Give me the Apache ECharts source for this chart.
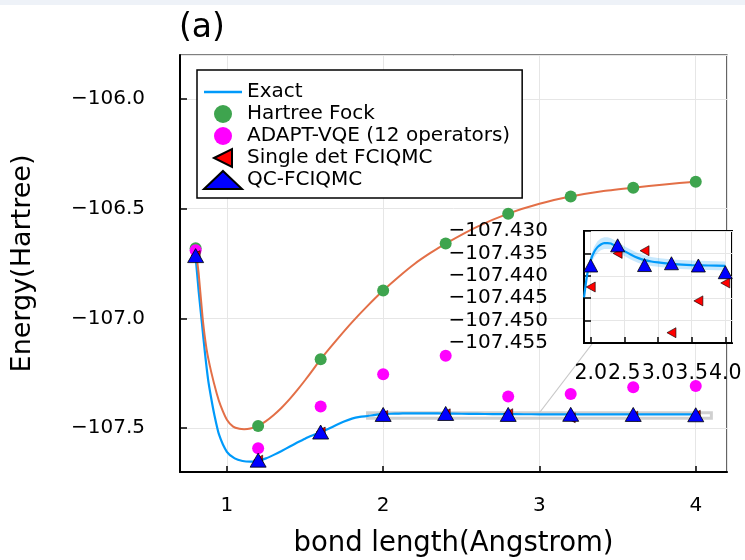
<!DOCTYPE html>
<html><head><meta charset="utf-8">
<script src="https://cdn.jsdelivr.net/npm/echarts@6/dist/echarts.min.js"></script>
<style>html,body{margin:0;padding:0;background:#fff}#c{width:745px;height:560px}</style>
</head><body><div id="c"></div>
<script>
// ---- data ----
const bondLengths = [0.8, 1.2, 1.6, 2.0, 2.4, 2.8, 3.2, 3.6, 4.0];
const hartreeFock = [-106.681, -107.490, -107.186, -106.873, -106.659, -106.523, -106.445, -106.405, -106.377];
const adaptVQE    = [-106.690, -107.592, -107.402, -107.255, -107.170, -107.356, -107.345, -107.314, -107.308];
const singleDet   = [-106.714, -107.646, -107.518, -107.4425, -107.4350, -107.4344, -107.4527, -107.4456, -107.4416];
const qcFCIQMC    = [-106.714, -107.646, -107.518, -107.4377, -107.4332, -107.4376, -107.4372, -107.4377, -107.4392];

const exactX = [0.80, 0.81, 0.82, 0.84, 0.86, 0.88, 0.90, 0.92, 0.95, 1.00, 1.05, 1.10, 1.15, 1.20, 1.25, 1.30, 1.35, 1.40, 1.45, 1.50, 1.55, 1.60, 1.65, 1.70, 1.75, 1.80, 1.85, 1.90, 1.95, 2.00, 2.05, 2.10, 2.15, 2.20, 2.25, 2.30, 2.35, 2.40, 2.50, 2.60, 2.70, 2.80, 2.90, 3.00, 3.25, 3.50, 3.75, 4.00];
const exactE = [-106.720, -106.800, -106.880, -107.020, -107.160, -107.280, -107.365, -107.440, -107.530, -107.608, -107.638, -107.650, -107.653, -107.649, -107.638, -107.622, -107.604, -107.585, -107.566, -107.548, -107.533, -107.519, -107.503, -107.486, -107.470, -107.457, -107.449, -107.4448, -107.4395, -107.4365, -107.4347, -107.4336, -107.4330, -107.4327, -107.4327, -107.4328, -107.4332, -107.4336, -107.4345, -107.4353, -107.4360, -107.4365, -107.4368, -107.4370, -107.4374, -107.4376, -107.4377, -107.4378];
const exactErr = [0.001, 0.001, 0.001, 0.001, 0.001, 0.001, 0.001, 0.001, 0.001, 0.001, 0.001, 0.001, 0.001, 0.001, 0.001, 0.001, 0.001, 0.001, 0.001, 0.001, 0.001, 0.001, 0.001, 0.001, 0.001, 0.001, 0.001, 0.0004, 0.0007, 0.0010, 0.0012, 0.0013, 0.0013, 0.0013, 0.0013, 0.0012, 0.0012, 0.0012, 0.0011, 0.0011, 0.0011, 0.0011, 0.0010, 0.0010, 0.0010, 0.0010, 0.0010, 0.0010];

const hfCurveX = [0.80, 0.82, 0.845, 0.87, 0.90, 0.935, 0.96, 1.00, 1.04, 1.08, 1.11, 1.15, 1.20, 1.25, 1.30, 1.35, 1.40, 1.45, 1.50, 1.55, 1.60, 1.70, 1.80, 1.90, 2.00, 2.10, 2.20, 2.30, 2.40, 2.60, 2.80, 3.00, 3.20, 3.40, 3.60, 3.80, 4.00];
const hfCurveE = [-106.681, -106.800, -107.000, -107.140, -107.245, -107.342, -107.398, -107.462, -107.493, -107.503, -107.505, -107.502, -107.490, -107.468, -107.440, -107.407, -107.369, -107.327, -107.282, -107.235, -107.186, -107.100, -107.018, -106.943, -106.873, -106.810, -106.752, -106.703, -106.659, -106.583, -106.523, -106.478, -106.445, -106.421, -106.405, -106.390, -106.377];

const mainXRange = [0.7, 4.2];
const mainYRange = [-107.7, -105.8];
const lensX = [1.9, 4.1];
const lensY = [-107.455, -107.43];

const FONT = 'DejaVu Sans';
const pairs = (xs, ys) => xs.map((x, i) => [x, ys[i]]);
const minus = s => s.replace('-', '\u2212');
const leftTri = 'path://M0,5 L10,0 L10,10 Z';

const insetIdx = exactX.map((x, i) => i).filter(i => exactX[i] >= lensX[0]);
const ribbonData = insetIdx.map(i => [exactX[i], exactE[i], exactErr[i]]);

const chart = echarts.init(document.getElementById('c'), null, {renderer: 'canvas'});

const axisCommon = {
  axisLine: {show: true, lineStyle: {color: '#000', width: 2}},
  axisTick: {show: true, inside: true, length: 7, lineStyle: {color: '#000', width: 1.5}},
  axisLabel: {color: '#000', fontFamily: FONT, fontSize: 20, hideOverlap: false},
  splitLine: {show: true, lineStyle: {color: '#e6e6e6', width: 1}}
};

const option = {
  animation: false,
  backgroundColor: '#fff',
  textStyle: {fontFamily: FONT},
  title: {text: '(a)', left: 174, top: 7, textStyle: {fontFamily: FONT, fontSize: 33, fontWeight: 'normal', color: '#000'}},
  legend: {
    data: [
      {name: 'Exact', icon: 'path://M0,0 L38,0 L38,2.4 L0,2.4 Z'},
      {name: 'Hartree Fock'},
      {name: 'ADAPT-VQE (12 operators)'},
      {name: 'Single det FCIQMC'},
      {name: 'QC-FCIQMC'}
    ],
    orient: 'vertical', left: 197, top: 70,
    padding: [12, 12, 8, 6], itemGap: 2, itemWidth: 38, itemHeight: 18,
    backgroundColor: '#fff', borderColor: '#000', borderWidth: 1.5, borderRadius: 0,
    textStyle: {fontFamily: FONT, fontSize: 20, color: '#000', lineHeight: 20},
    z: 10
  },
  grid: [
    {left: 180, top: 55, width: 547, height: 417, show: true, borderColor: '#000', borderWidth: 1.2, backgroundColor: 'transparent', outerBoundsMode: 'none', containLabel: false, z: 0},
    {left: 584, top: 231, width: 148, height: 112, show: true, borderColor: '#000', borderWidth: 2, backgroundColor: '#fff', outerBoundsMode: 'none', containLabel: false, z: 5}
  ],
  xAxis: [
    Object.assign({}, axisCommon, {
      type: 'value', gridIndex: 0, min: mainXRange[0], max: mainXRange[1], splitNumber: 4,
      name: 'bond length(Angstrom)', nameLocation: 'middle', nameGap: 58,
      nameTextStyle: {fontFamily: FONT, fontSize: 27.5, color: '#000'},
      axisTick: {show: true, inside: true, length: 6, lineStyle: {color: '#000', width: 1.5}},
      axisLabel: {color: '#000', fontFamily: FONT, fontSize: 20, margin: 24, showMinLabel: false, showMaxLabel: false, formatter: v => String(v)},
      z: 0
    }),
    Object.assign({}, axisCommon, {
      type: 'value', gridIndex: 1, min: lensX[0], max: lensX[1], splitNumber: 4,
      axisTick: {show: true, inside: true, length: 6, lineStyle: {color: '#000', width: 1.5}},
      axisLabel: {color: '#000', fontFamily: FONT, fontSize: 20.5, margin: 20, hideOverlap: false, showMinLabel: false, showMaxLabel: false, formatter: v => v.toFixed(1)},
      z: 6
    })
  ],
  yAxis: [
    Object.assign({}, axisCommon, {
      type: 'value', gridIndex: 0, min: mainYRange[0], max: mainYRange[1], splitNumber: 4,
      name: 'Energy(Hartree)', nameLocation: 'middle', nameGap: 144,
      nameTextStyle: {fontFamily: FONT, fontSize: 27, color: '#000'},
      axisLabel: {color: '#000', fontFamily: FONT, fontSize: 20, margin: 35, showMinLabel: false, showMaxLabel: false, formatter: v => minus(v.toFixed(1))},
      z: 0
    }),
    Object.assign({}, axisCommon, {
      type: 'value', gridIndex: 1, min: lensY[0], max: lensY[1], splitNumber: 5,
      axisLabel: {color: '#000', fontFamily: FONT, fontSize: 20, margin: 36, hideOverlap: false, showMinLabel: true, showMaxLabel: true, formatter: v => minus(v.toFixed(3))},
      z: 6
    })
  ],
  series: [
    // main panel
    {name: 'Exact', type: 'line', xAxisIndex: 0, yAxisIndex: 0, data: pairs(exactX, exactE), symbol: 'none', showSymbol: false, smooth: 0.2, lineStyle: {color: '#009AFA', width: 2.2}, itemStyle: {color: '#009AFA'}, z: 2},
    {name: 'HF curve', type: 'line', xAxisIndex: 0, yAxisIndex: 0, data: pairs(hfCurveX, hfCurveE), symbol: 'none', showSymbol: false, smooth: 0.2, lineStyle: {color: '#E36F47', width: 2}, itemStyle: {color: '#E36F47'}, z: 2},
    {name: 'Hartree Fock', type: 'scatter', xAxisIndex: 0, yAxisIndex: 0, data: pairs(bondLengths, hartreeFock), symbol: 'circle', symbolSize: 12, itemStyle: {color: '#3EA44E', opacity: 1}, z: 3},
    {name: 'ADAPT-VQE (12 operators)', type: 'scatter', xAxisIndex: 0, yAxisIndex: 0, data: pairs(bondLengths, adaptVQE), symbol: 'circle', symbolSize: 12, itemStyle: {color: '#FF00FF', opacity: 1}, z: 3},
    {name: 'Single det FCIQMC', type: 'scatter', xAxisIndex: 0, yAxisIndex: 0, data: pairs(bondLengths, singleDet), symbol: leftTri, symbolSize: [9, 10], itemStyle: {color: '#FF0000', borderColor: '#000', borderWidth: 0.6, opacity: 1}, z: 3},
    {name: 'QC-FCIQMC', type: 'scatter', xAxisIndex: 0, yAxisIndex: 0, data: pairs(bondLengths, qcFCIQMC), symbol: 'triangle', symbolSize: [16, 14], itemStyle: {color: '#0000FF', borderColor: '#000', borderWidth: 0.8, opacity: 1}, z: 3,
      markArea: {silent: true, itemStyle: {color: 'rgba(255,255,255,0.15)', borderColor: 'rgba(170,170,170,0.55)', borderWidth: 3}, data: [[{coord: [lensX[0], lensY[1]]}, {coord: [lensX[1], lensY[0]]}]]}
    },
    // inset
    {name: 'ribbon', type: 'custom', xAxisIndex: 1, yAxisIndex: 1, data: ribbonData, z: 7, silent: true,
      renderItem: (params, api) => {
        if (params.dataIndex !== 0) return null;
        const up = ribbonData.map(d => api.coord([d[0], d[1] + d[2]]));
        const lo = ribbonData.map(d => api.coord([d[0], d[1] - d[2]])).reverse();
        return {type: 'polygon', shape: {points: up.concat(lo)}, style: {fill: 'rgba(0,154,250,0.22)'}};
      }
    },
    {name: 'Exact inset', type: 'line', xAxisIndex: 1, yAxisIndex: 1, data: insetIdx.map(i => [exactX[i], exactE[i]]), symbol: 'none', showSymbol: false, smooth: 0.2, lineStyle: {color: '#009AFA', width: 2.2}, z: 8, clip: true},
    {name: 'Single inset', type: 'scatter', xAxisIndex: 1, yAxisIndex: 1, data: pairs(bondLengths, singleDet), symbol: leftTri, symbolSize: [9, 10], itemStyle: {color: '#FF0000', borderColor: '#000', borderWidth: 0.6, opacity: 1}, z: 9, clip: true},
    {name: 'QC inset', type: 'scatter', xAxisIndex: 1, yAxisIndex: 1, data: pairs(bondLengths, qcFCIQMC), symbol: 'triangle', symbolSize: [14, 13], itemStyle: {color: '#0000FF', borderColor: '#000', borderWidth: 0.8, opacity: 1}, z: 10, clip: true}
  ]
};
chart.setOption(option);

// lens connector (decoration)
const p0 = chart.convertToPixel({gridIndex: 0}, [3.0, lensY[1]]);
const p1 = chart.convertToPixel({gridIndex: 1}, [2.03, lensY[0]]);
chart.setOption({
  graphic: [
    {type: 'rect', left: 0, top: 0, shape: {width: 745, height: 5}, style: {fill: '#eef2f8'}, z: 0},
    {type: 'line', shape: {x1: p0[0], y1: p0[1], x2: p1[0], y2: p1[1]}, style: {stroke: '#c8c8c8', lineWidth: 1.2}, z: 1}
  ]
});
</script>
</body></html>
